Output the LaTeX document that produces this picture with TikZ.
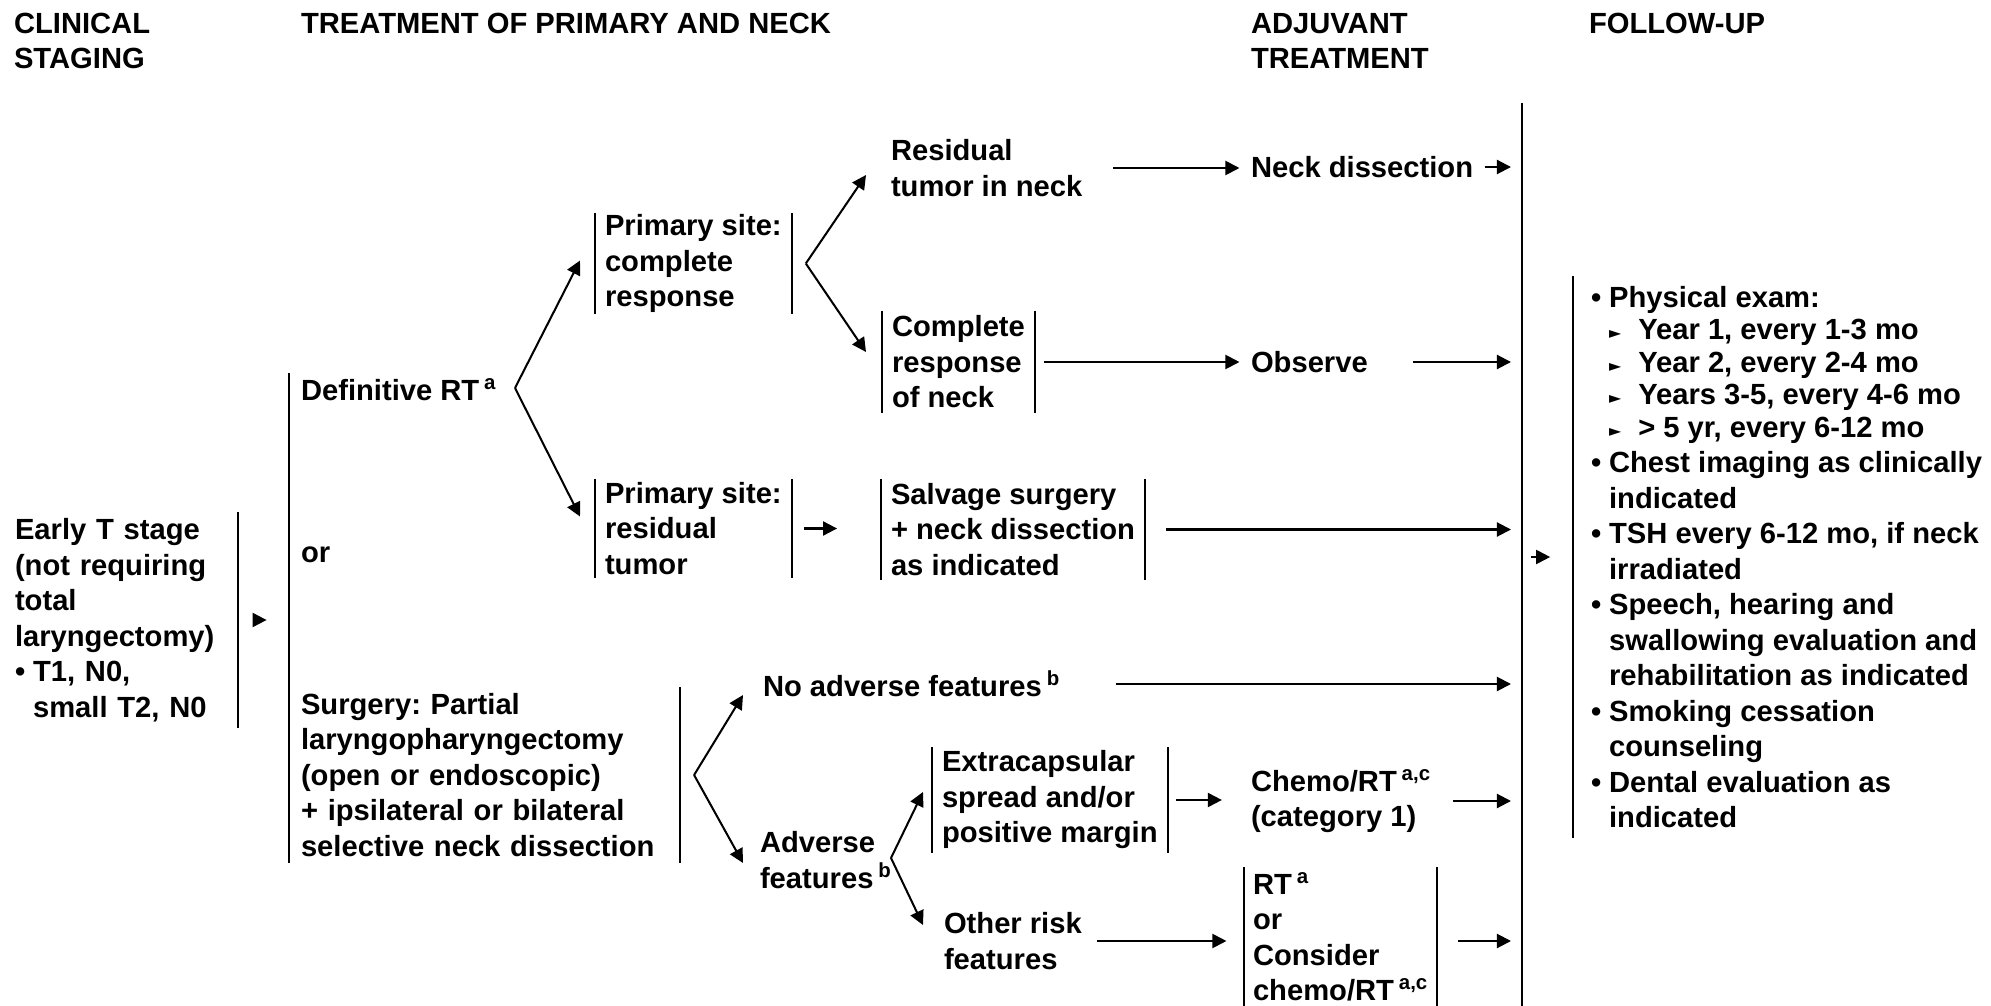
\documentclass[tikz,border=0pt]{standalone}
\usepackage{fontspec}
\setmainfont{Liberation Sans}
\newfontfamily\symfont{DejaVu Sans}
\usepackage{tikz}
\usetikzlibrary{arrows.meta, positioning, calc}

\newcommand{\bul}{\makebox[0.62em][l]{\textbullet}}
\newcommand{\fuitem}{\hspace*{0.62em}\makebox[1em][l]{\raisebox{0.5pt}{\symfont\mdseries\fontsize{9pt}{9pt}\selectfont ►}}}
\newcommand{\ind}{\hspace*{0.62em}}

\begin{document}
\frenchspacing
\begin{tikzpicture}[x=0.2mm, y=-0.2mm, line width=1.15pt,
  txt/.style={anchor=west, align=left, inner sep=0pt, font=\bfseries\fontsize{16.6pt}{20.2pt}\selectfont},
  bx/.style={txt, inner xsep=1.8mm},
  arr/.style={-{Triangle[length=8pt,width=8pt]}}]
\useasboundingbox (0,0) rectangle (1991,1006);

% Column headings
\node[txt] (hclin) at (13,41) {CLINICAL\\STAGING};
\node[txt] (htreat) at (300,23) {TREATMENT OF PRIMARY AND NECK};
\node[txt] (hadj) at (1250,41) {ADJUVANT\\TREATMENT};
\node[txt] (hfu) at (1588,23) {FOLLOW-UP};

% Clinical staging
\node[txt, text width=44.4mm, minimum height=42.6mm] (early) at (14,620)
  {Early T stage\\(not requiring\\total\\laryngectomy)\\\bul T1, N0,\\\ind small T2, N0};
\draw (early.north east) -- (early.south east);

% Treatment of primary and neck
\node[txt] (def) at (300,390) {Definitive RT\,\textsuperscript{a}};
\node[txt] (orr) at (300,555) {or};
\node[txt, text width=75.6mm, minimum height=34.8mm] (surg) at (300,775)
  {Surgery: Partial\\laryngopharyngectomy\\(open or endoscopic)\\+ ipsilateral or bilateral\\selective neck dissection};
\coordinate (tb) at ([shift={(-11,-17)}]def.west);
\draw (tb) -- (tb |- surg.south);
\draw (surg.north east) -- (surg.south east);

\node[bx, minimum height=19.4mm] (pcr) at (595,263.5) {Primary site:\\complete\\response};
\node[bx, minimum height=19.4mm] (prt) at (595,528.5) {Primary site:\\residual\\tumor};
\draw (pcr.north west) -- (pcr.south west) (pcr.north east) -- (pcr.south east);
\draw (prt.north west) -- (prt.south west) (prt.north east) -- (prt.south east);

\node[txt] (rtn) at (890,168) {Residual\\tumor in neck};
\node[bx, minimum height=20mm] (crn) at (882,362) {Complete\\response\\of neck};
\node[bx, minimum height=19.8mm] (salv) at (881,529.5) {Salvage surgery\\+ neck dissection\\as indicated};
\draw (crn.north west) -- (crn.south west) (crn.north east) -- (crn.south east);
\draw (salv.north west) -- (salv.south west) (salv.north east) -- (salv.south east);

\node[txt] (noadv) at (762,684) {No adverse features\,\textsuperscript{b}};
\node[txt] (adv) at (759,860) {Adverse\\features\,\textsuperscript{b}};
\node[bx, minimum height=20.8mm] (extra) at (932,800) {Extracapsular\\spread and/or\\positive margin};
\node[txt] (other) at (943,941) {Other risk\\features};
\draw (extra.north west) -- (extra.south west) (extra.north east) -- (extra.south east);

% Adjuvant treatment
\node[txt] (nd) at (1250,167) {Neck dissection};
\node[txt] (obs) at (1250,362) {Observe};
\node[txt] (chemo) at (1250,801) {Chemo/RT\,\textsuperscript{a,c}\\(category 1)};
\node[bx, inner xsep=1.6mm, minimum height=27.6mm] (rtbox) at (1244,937)
  {RT\,\textsuperscript{a}\\or\\Consider\\chemo/RT\,\textsuperscript{a,c}};
\draw (rtbox.north west) -- (rtbox.south west) (rtbox.north east) -- (rtbox.south east);

% Follow-up
\node[txt, inner xsep=3.4mm, minimum height=112mm] (flw) at (1573,557)
  {\bul Physical exam:\\[-0.6mm]
   \fuitem Year 1, every 1-3 mo\\[-0.6mm]
   \fuitem Year 2, every 2-4 mo\\[-0.6mm]
   \fuitem Years 3-5, every 4-6 mo\\[-0.6mm]
   \fuitem > 5 yr, every 6-12 mo\\
   \bul Chest imaging as clinically\\
   \ind indicated\\
   \bul TSH every 6-12 mo, if neck\\
   \ind irradiated\\
   \bul Speech, hearing and\\
   \ind swallowing evaluation and\\
   \ind rehabilitation as indicated\\
   \bul Smoking cessation\\
   \ind counseling\\
   \bul Dental evaluation as\\
   \ind indicated};
\draw (flw.north west) -- (flw.south west);

% Main divider
\coordinate (ltop) at (1522,103);
\coordinate (lbot) at (1522,1006);
\draw (ltop) -- (lbot);
\coordinate (fl) at (1511,103);

% Connectors
\coordinate (tin) at ([xshift=-19]orr.west);
\draw[arr] ([xshift=9]early.east) -- (tin |- early.east);

\coordinate (dfork) at (515,388);
\draw[arr] (dfork) -- ([shift={(-15,-3)}]pcr.west);
\draw[arr] (dfork) -- ([shift={(-15,-12)}]prt.west);

\coordinate (cfork) at ([xshift=8]pcr.east);
\draw[arr] (cfork) -- ([shift={(-24,7)}]rtn.west);
\draw[arr] (cfork) -- ([shift={(-16,-10)}]crn.west);

\coordinate (ndin) at ([xshift=-6]nd.west);
\draw[arr] ([xshift=17]rtn.east) -- (ndin |- rtn.east);
\draw[arr] ([xshift=6]nd.east) -- (fl |- nd.east);
\coordinate (obsin) at ([xshift=-6]obs.west);
\draw[arr] ([xshift=5]crn.east) -- (obsin |- crn.east);
\draw[arr] ([xshift=25]obs.east) -- (fl |- obs.east);
\coordinate (salvin) at ([xshift=-25]salv.west);
\draw[arr] ([xshift=7]prt.east) -- (salvin |- prt.east);
\draw[arr] ([xshift=12]salv.east) -- (fl |- salv.east);

\coordinate (sfork) at ([xshift=8]surg.east);
\draw[arr] (sfork) -- ([shift={(-19,11)}]noadv.west);
\draw[arr] (sfork) -- ([shift={(-16,3)}]adv.west);
\draw[arr] ([xshift=31]noadv.east) -- (fl |- noadv.east);

\coordinate (afork) at (891,858);
\draw[arr] (afork) -- ([shift={(-9,-8)}]extra.west);
\draw[arr] (afork) -- ([shift={(-20,-16)}]other.west);

\coordinate (chin) at ([xshift=-16]chemo.west);
\draw[arr] ([xshift=5]extra.east) -- (chin |- extra.east);
\draw[arr] ([xshift=12]chemo.east) -- (fl |- chemo.east);
\coordinate (rtin) at ([xshift=-10]rtbox.west);
\draw[arr] ([xshift=8]other.east) -- (rtin |- other.east);
\draw[arr] ([xshift=12]rtbox.east |- other.east) -- (fl |- other.east);

\coordinate (fuin) at (1531,557);
\draw[arr] (fuin) -- ([xshift=-13]flw.west);
\end{tikzpicture}
\end{document}
